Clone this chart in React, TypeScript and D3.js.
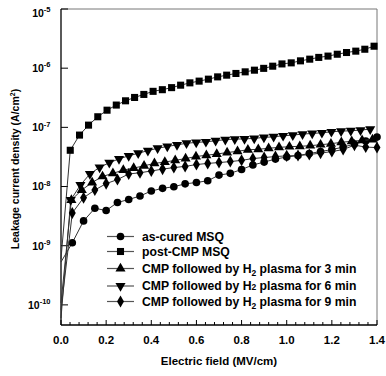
import React from "react";
import * as d3 from "d3";

// ---------- data ----------
const xTickLabels = ["0.0", "0.2", "0.4", "0.6", "0.8", "1.0", "1.2", "1.4"];
const yTickExponents = [-5, -6, -7, -8, -9, -10];

// as-cured MSQ (circles)
const asCuredX = [0, 0.05, 0.1, 0.15, 0.2, 0.25, 0.3, 0.35, 0.4, 0.45, 0.5, 0.55, 0.6, 0.65, 0.7, 0.75, 0.8, 0.85, 0.9, 0.95, 1.0, 1.05, 1.1, 1.15, 1.2, 1.25, 1.3, 1.35, 1.4];
const asCuredY = [5.3e-10, 1.12e-9, 2.62e-9, 4.29e-9, 3.93e-9, 5.37e-9, 6.04e-9, 6.92e-9, 8.4e-9, 9.33e-9, 9.93e-9, 1.11e-8, 1.17e-8, 1.25e-8, 1.56e-8, 1.67e-8, 1.94e-8, 2.31e-8, 2.59e-8, 2.91e-8, 3.15e-8, 3.34e-8, 3.61e-8, 3.9e-8, 4.21e-8, 4.64e-8, 5.21e-8, 5.86e-8, 6.84e-8];

// post-CMP MSQ (squares)
const postCmpX = [0, 0.041, 0.082, 0.122, 0.163, 0.204, 0.245, 0.286, 0.326, 0.367, 0.408, 0.449, 0.49, 0.53, 0.571, 0.612, 0.653, 0.694, 0.734, 0.775, 0.816, 0.857, 0.898, 0.938, 0.979, 1.02, 1.061, 1.102, 1.142, 1.183, 1.224, 1.265, 1.306, 1.346, 1.387];
const postCmpY = [6.0e-10, 4.1e-8, 7.4e-8, 1.09e-7, 1.51e-7, 1.95e-7, 2.38e-7, 2.81e-7, 3.2e-7, 3.6e-7, 4.06e-7, 4.33e-7, 4.69e-7, 5.16e-7, 5.65e-7, 6.04e-7, 6.52e-7, 7.13e-7, 7.62e-7, 8.14e-7, 8.67e-7, 9.25e-7, 9.93e-7, 1.08e-6, 1.18e-6, 1.23e-6, 1.33e-6, 1.42e-6, 1.52e-6, 1.6e-6, 1.72e-6, 1.84e-6, 1.94e-6, 2.09e-6, 2.35e-6];

// CMP + H2 plasma 3 min (up triangles)
const h3X = [0, 0.046, 0.092, 0.138, 0.184, 0.23, 0.276, 0.322, 0.368, 0.414, 0.46, 0.506, 0.552, 0.598, 0.644, 0.69, 0.736, 0.782, 0.828, 0.874, 0.92, 0.966, 1.012, 1.058, 1.104, 1.15, 1.196, 1.242, 1.288, 1.334, 1.38];
const h3Y = [1.08e-10, 5.92e-9, 8.73e-9, 1.17e-8, 1.48e-8, 1.67e-8, 1.9e-8, 2.05e-8, 2.24e-8, 2.46e-8, 2.59e-8, 2.77e-8, 2.97e-8, 3.21e-8, 3.38e-8, 3.54e-8, 3.75e-8, 3.94e-8, 4.18e-8, 4.26e-8, 4.43e-8, 4.59e-8, 4.71e-8, 4.78e-8, 4.9e-8, 5.09e-8, 5.29e-8, 5.59e-8, 5.82e-8, 6.02e-8, 6.21e-8];

// CMP + H2 plasma 6 min (down triangles)
const h6X = [0, 0.043, 0.086, 0.128, 0.171, 0.214, 0.257, 0.3, 0.342, 0.385, 0.428, 0.471, 0.514, 0.556, 0.599, 0.642, 0.685, 0.728, 0.77, 0.813, 0.856, 0.899, 0.942, 0.984, 1.027, 1.07, 1.113, 1.156, 1.198, 1.241, 1.284, 1.327, 1.37];
const h6Y = [6.0e-11, 5.92e-9, 1.06e-8, 1.63e-8, 2.11e-8, 2.52e-8, 2.94e-8, 3.3e-8, 3.65e-8, 4.04e-8, 4.43e-8, 4.75e-8, 5.06e-8, 5.38e-8, 5.57e-8, 5.7e-8, 5.93e-8, 6.21e-8, 6.33e-8, 6.38e-8, 6.51e-8, 6.77e-8, 6.93e-8, 7.2e-8, 7.4e-8, 7.69e-8, 7.9e-8, 8.09e-8, 8.41e-8, 8.65e-8, 8.75e-8, 8.99e-8, 9.34e-8];

// CMP + H2 plasma 9 min (diamonds)
const h9X = [0, 0.05, 0.1, 0.15, 0.2, 0.25, 0.3, 0.35, 0.4, 0.45, 0.5, 0.55, 0.6, 0.65, 0.7, 0.75, 0.8, 0.85, 0.9, 0.95, 1.0, 1.05, 1.1, 1.15, 1.2, 1.25, 1.3, 1.35, 1.4];
const h9Y = [8.24e-11, 3.57e-9, 6.47e-9, 8.73e-9, 1.12e-8, 1.31e-8, 1.63e-8, 1.71e-8, 1.83e-8, 1.97e-8, 2.09e-8, 2.19e-8, 2.35e-8, 2.46e-8, 2.54e-8, 2.64e-8, 2.77e-8, 2.97e-8, 3.09e-8, 3.21e-8, 3.3e-8, 3.34e-8, 3.47e-8, 3.67e-8, 3.9e-8, 4.21e-8, 5.01e-8, 4.64e-8, 4.55e-8];

type Sym = "circle" | "square" | "up" | "down" | "diamond";

const series: { name: string; sub?: "sub" | "small"; xs: number[]; ys: number[]; sym: Sym }[] = [
  { name: "as-cured MSQ", xs: asCuredX, ys: asCuredY, sym: "circle" },
  { name: "post-CMP MSQ", xs: postCmpX, ys: postCmpY, sym: "square" },
  { name: "3", sub: "sub", xs: h3X, ys: h3Y, sym: "up" },
  { name: "6", sub: "small", xs: h6X, ys: h6Y, sym: "down" },
  { name: "9", sub: "sub", xs: h9X, ys: h9Y, sym: "diamond" },
];

// ---------- layout ----------
const W = 386;
const H = 376;
const L = 61;
const R = 377;
const T = 9;
const B = 325;
const FONT = "'Liberation Sans', Arial, Helvetica, sans-serif";

const x = d3.scaleLinear().domain([0, 1.4]).range([L, R]);
const y = d3.scaleLog().domain([Math.pow(10, -10.34), 1e-5]).range([B, T]);

function symPath(s: Sym): string {
  const map: Record<Sym, [d3.SymbolType, number]> = {
    circle: [d3.symbolCircle, 46],
    square: [d3.symbolSquare, 50],
    up: [d3.symbolTriangle, 44],
    down: [d3.symbolTriangle, 44],
    diamond: [d3.symbolDiamond, 42],
  };
  const [t, size] = map[s];
  return d3.symbol().type(t).size(size)() as string;
}

function Marker({ s, cx, cy }: { s: Sym; cx: number; cy: number }) {
  const rot = s === "down" ? " rotate(180)" : "";
  return <path d={symPath(s)} transform={`translate(${cx},${cy})${rot}`} fill="#000" />;
}

export default function App() {
  const line = d3
    .line<[number, number]>()
    .x((d) => x(d[0]))
    .y((d) => y(d[1]));

  const minorTicks = d3.range(0, 36).map((i) => i * 0.04);
  const legendRows = [236.5, 251.5, 268.5, 286, 301.5];

  return (
    <svg
      width={W}
      height={H}
      style={{ position: "absolute", left: 0, top: 0, background: "#fff" }}
      fontFamily={FONT}
      fontWeight="bold"
    >
      {/* frame */}
      <line x1={L} y1={T} x2={R} y2={T} stroke="#777" strokeWidth={1} />
      <line x1={R} y1={T} x2={R} y2={B} stroke="#777" strokeWidth={1} />
      <line x1={L} y1={T} x2={L} y2={B} stroke="#000" strokeWidth={1.3} />
      <line x1={L} y1={B} x2={R} y2={B} stroke="#000" strokeWidth={1.3} />

      {/* x ticks */}
      {minorTicks.map((t, i) => (
        <line
          key={"xt" + i}
          x1={x(t)}
          x2={x(t)}
          y1={B}
          y2={B - (i % 5 === 0 ? 5 : 3)}
          stroke="#000"
          strokeWidth={1}
        />
      ))}
      {xTickLabels.map((lab) => (
        <text key={lab} x={x(+lab)} y={343.5} textAnchor="middle" fontSize={11.5}>
          {lab}
        </text>
      ))}

      {/* y ticks */}
      {yTickExponents.map((e) => (
        <g key={"yt" + e}>
          <line x1={L} x2={L + 7} y1={y(Math.pow(10, e))} y2={y(Math.pow(10, e))} stroke="#000" strokeWidth={1} />
          <text
            x={50.5}
            y={y(Math.pow(10, e)) + (e === -5 ? 7.5 : 3.8)}
            textAnchor="end"
            fontSize={10.5}
          >
            10
            <tspan fontSize={7.5} dy={-4.5}>
              {String(e)}
            </tspan>
          </text>
        </g>
      ))}

      {/* axis titles */}
      <text x={(L + R) / 2} y={365} textAnchor="middle" fontSize={11.5}>
        Electric field (MV/cm)
      </text>
      <text transform={`translate(19,${(T + B) / 2 + 2}) rotate(-90)`} textAnchor="middle" fontSize={10.5}>
        Leakage current density (A/cm
        <tspan fontSize={7} dy={-4}>
          2
        </tspan>
        <tspan dy={4}>)</tspan>
      </text>

      {/* series */}
      {series.map((s, si) => {
        const pts = s.xs.map((v, i) => [v, s.ys[i]] as [number, number]);
        return (
          <g key={"s" + si}>
            <path d={line(pts) as string} fill="none" stroke="#333" strokeWidth={1} />
            {pts.slice(1).map((p, i) => (
              <Marker key={i} s={s.sym} cx={x(p[0])} cy={y(p[1])} />
            ))}
          </g>
        );
      })}

      {/* legend */}
      {series.map((s, i) => {
        const ly = legendRows[i];
        return (
          <g key={"lg" + i}>
            <line x1={107} x2={134} y1={ly} y2={ly} stroke="#555" strokeWidth={1.2} />
            <Marker s={s.sym} cx={120.5} cy={ly} />
            <text x={142} y={ly + 4.2} fontSize={12.2}>
              {s.sub ? (
                <>
                  CMP followed by H
                  {s.sub === "sub" ? (
                    <tspan fontSize={8.5} dy={3}>
                      2
                    </tspan>
                  ) : (
                    <tspan fontSize={8.5}>2</tspan>
                  )}
                  <tspan dy={s.sub === "sub" ? -3 : 0}>{` plasma for ${s.name} min`}</tspan>
                </>
              ) : (
                s.name
              )}
            </text>
          </g>
        );
      })}
    </svg>
  );
}
